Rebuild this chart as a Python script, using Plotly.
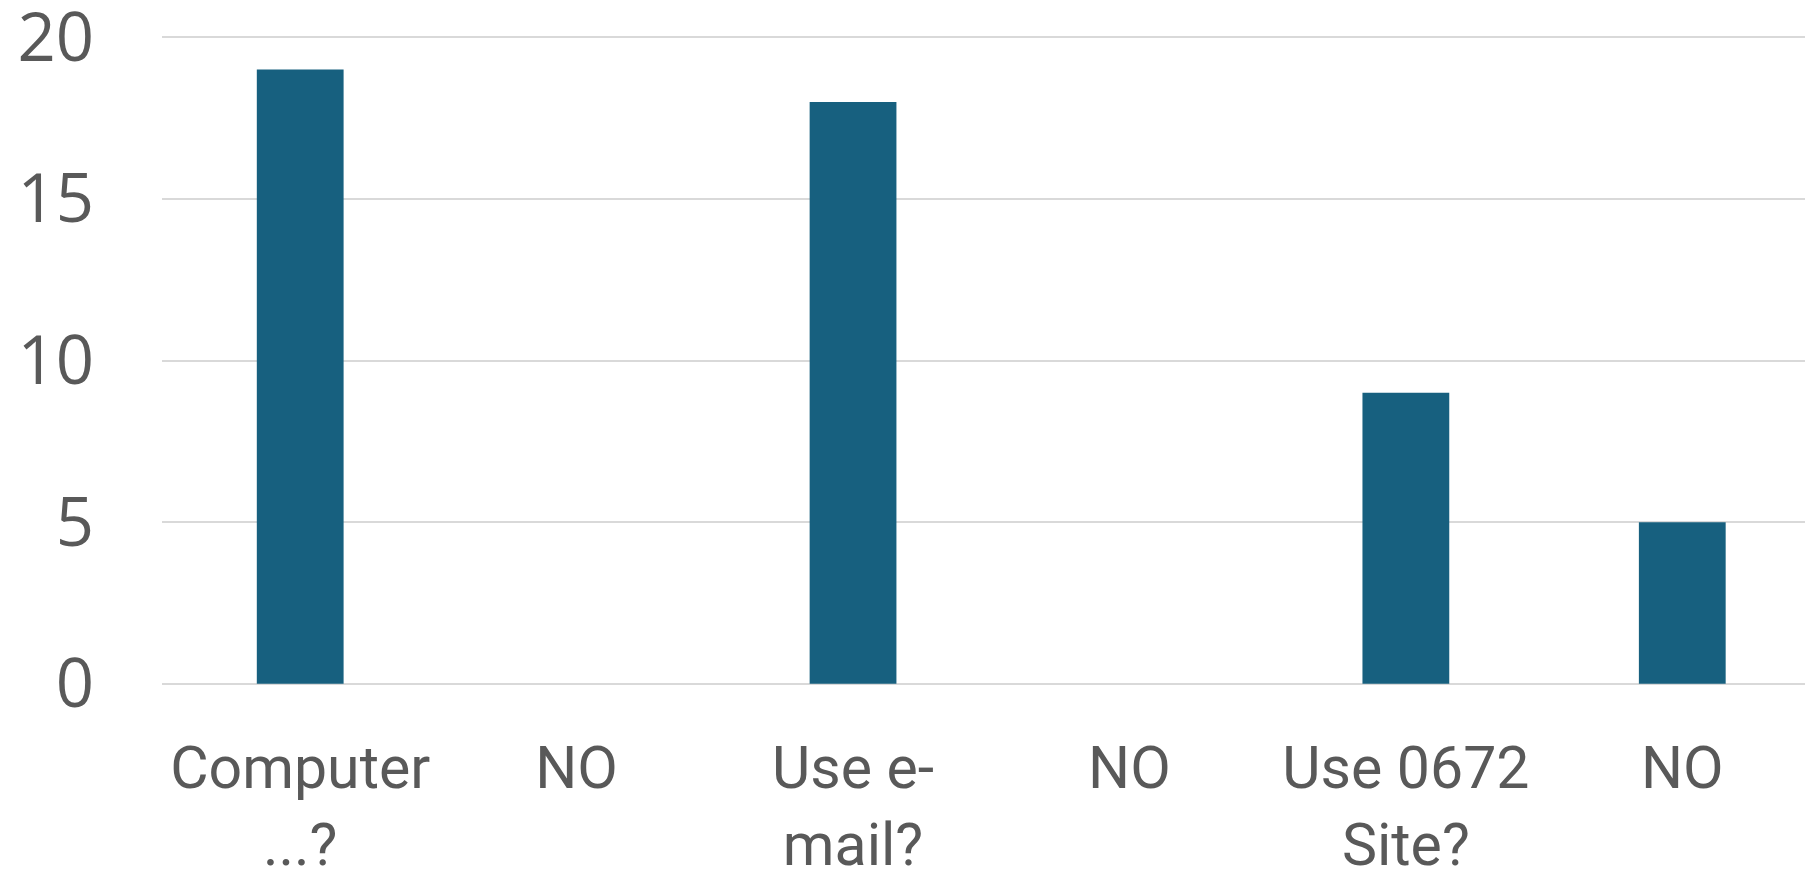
import plotly.graph_objects as go

positions = [0, 1, 2, 3, 4, 5]
tick_labels = ["Computer<br>...?", "NO", "Use e-<br>mail?", "NO", "Use 0672<br>Site?", "NO"]
values = [19, 0, 18, 0, 9, 5]
y_ticks = [0, 5, 10, 15, 20]

fig = go.Figure(go.Bar(
    x=positions, y=values, width=0.314,
    marker=dict(color="#17607F", line=dict(width=0)),
))

xfont = dict(family="Roboto, Liberation Sans, sans-serif", size=59, color="#595959")
yfont = dict(family="Open Sans, Roboto, sans-serif", size=67, color="#595959")

fig.update_layout(
    width=1805, height=870,
    margin=dict(l=162, r=0, t=34, b=183, pad=0),
    paper_bgcolor="white", plot_bgcolor="white",
    showlegend=False,
    font=xfont,
    xaxis=dict(
        tickmode="array", tickvals=positions, ticktext=tick_labels,
        range=[-0.5, 5.444], showgrid=False, zeroline=False, showline=False,
        ticks="", tickfont=xfont, ticklabelstandoff=41, automargin=False,
        ticklabeloverflow="allow",
    ),
    yaxis=dict(
        range=[-0.1, 20.1], tickmode="array", tickvals=y_ticks,
        showgrid=True, gridcolor="#D9D9D9", gridwidth=2,
        zeroline=False, showline=False, ticks="", tickfont=yfont,
        ticklabelstandoff=67, automargin=False, ticklabeloverflow="allow",
    ),
)

fig.write_html(
    "out.html",
    config={"displayModeBar": False},
    post_script="document.body.style.margin='0';document.body.style.overflow='hidden';",
)
